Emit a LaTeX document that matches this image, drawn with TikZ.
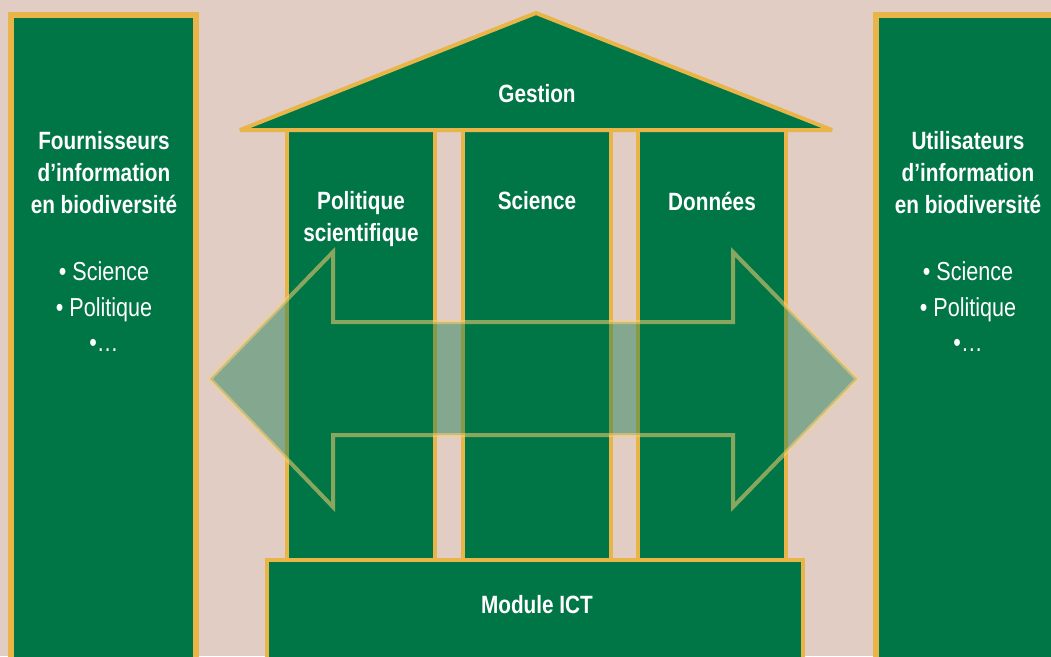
\documentclass[tikz,border=0pt]{standalone}
\usepackage{fontspec}
\setmainfont{Liberation Sans}[FakeStretch=0.83]

\definecolor{paper}{RGB}{226,205,197}
\definecolor{boxgreen}{RGB}{0,117,70}
\definecolor{rimgold}{RGB}{234,181,72}
\definecolor{arrowgold}{RGB}{250,208,115}

\tikzset{
    sidebox/.style={draw=rimgold,line width=6pt,fill=boxgreen},
    housepart/.style={draw=rimgold,line width=4pt,fill=boxgreen},
    heading/.style={text=white,align=center,inner sep=0pt,font=\bfseries\fontsize{25}{32}\selectfont},
    bullets/.style={text=white,align=center,inner sep=0pt,font=\fontsize{26}{35.5}\selectfont}
}

\begin{document}
\begin{tikzpicture}[x=1pt,y=-1pt]
                \useasboundingbox (0,0) rectangle (1051,656);
                \clip (0,0) rectangle (1051,656);
                \fill[paper] (0,0) rectangle (1051,656);

                % Seitenkaesten
                \draw[sidebox] (11,15) rectangle (196,680);
                \draw[sidebox] (876,15) rectangle (1080,680);

                \node[heading] (anbieter) at (104,173) {Fournisseurs\\d’information\\en biodiversité};
                \node[bullets] (anbieterliste) at (104,307) {• Science\\• Politique\\•…};
                \node[heading] (nutzer) at (968,173) {Utilisateurs\\d’information\\en biodiversité};
                \node[bullets] (nutzerliste) at (968,307) {• Science\\• Politique\\•…};

                % Saeulen
                \foreach \x in {287,463,638} {
                    \draw[housepart] (\x,130) rectangle ({\x+148},575);
                }
                \node[heading] (politik) at (361,219) {Politique\\scientifique};
                \node[heading] (science) at (537,201) {Science};
                \node[heading] (daten) at (712,201) {Données};

                % Dach
                \draw[housepart,line join=miter,miter limit=2] (240,130) -- (536,13) -- (832,130) -- cycle;
                \node[heading] (gestion) at (537,94) {Gestion};

                % Sockel
                \draw[housepart] (267,560) rectangle (803,680);
                \node[heading] (ict) at (537,605) {Module ICT};

                % Doppelpfeil
                \draw[fill=boxgreen,fill opacity=0.42,draw=arrowgold,draw opacity=0.55,line width=4pt,line join=miter]
                    (210,379) -- (333,252) -- (333,322) -- (733,322) -- (733,252) -- (857,379)
                    -- (733,507) -- (733,435) -- (333,435) -- (333,507) -- cycle;
            \end{tikzpicture}
\end{document}
